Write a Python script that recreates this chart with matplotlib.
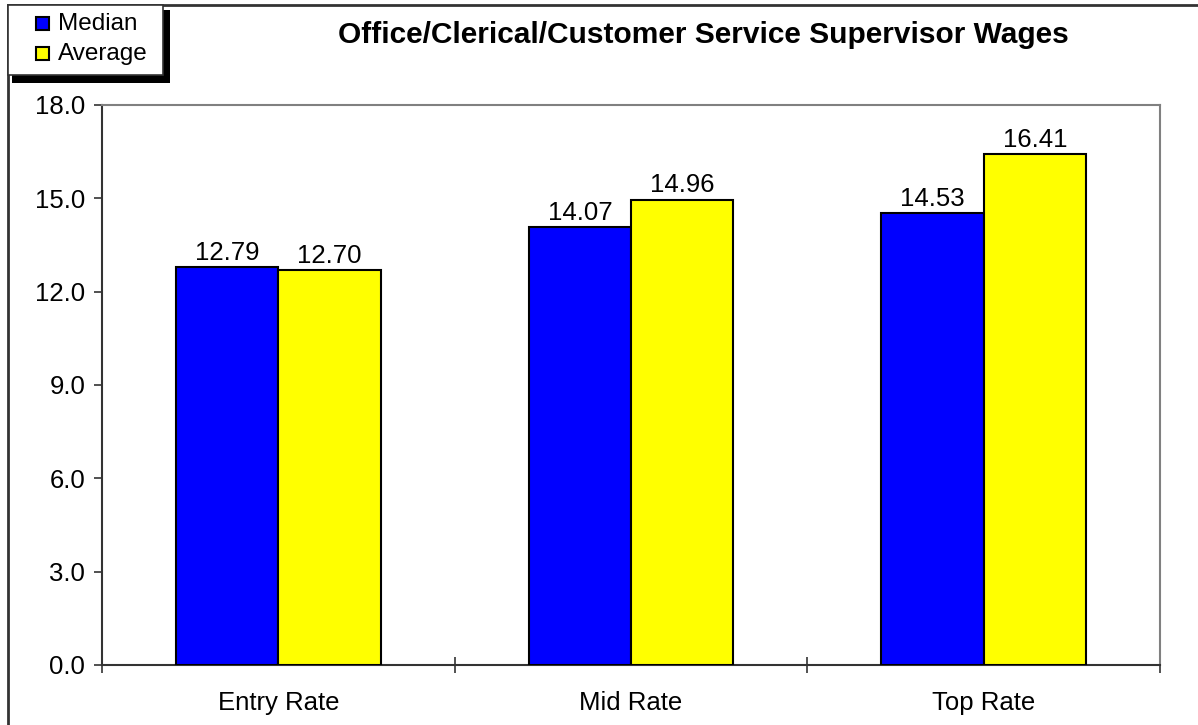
import matplotlib
matplotlib.use("Agg")
import matplotlib.pyplot as plt
from matplotlib.patches import Rectangle
from matplotlib.lines import Line2D
import numpy as np

plt.rcParams['font.family'] = ['Liberation Sans', 'DejaVu Sans']

title = "Office/Clerical/Customer Service Supervisor Wages"
categories = ["Entry Rate", "Mid Rate", "Top Rate"]
series_names = ["Median", "Average"]
median_vals = [12.79, 14.07, 14.53]
average_vals = [12.70, 14.96, 16.41]
series_colors = ["#0000FF", "#FFFF00"]
y_ticks = [0.0, 3.0, 6.0, 9.0, 12.0, 15.0, 18.0]

W, H = 1198, 725
fig = plt.figure(figsize=(W / 100, H / 100), dpi=100)

def fx(px):
    return px / W

def fy(py):
    return 1 - py / H

ax = fig.add_axes([fx(102), fy(665), fx(1160) - fx(102), fy(105) - fy(665)])

x = np.arange(len(categories))
bw = 0.29
b1 = ax.bar(x - bw / 2, median_vals, bw, color=series_colors[0], edgecolor="black", linewidth=1.5, zorder=3)
b2 = ax.bar(x + bw / 2, average_vals, bw, color=series_colors[1], edgecolor="black", linewidth=1.5, zorder=3)

for bars, vals in ((b1, median_vals), (b2, average_vals)):
    for rect, v in zip(bars, vals):
        ax.annotate(f"{v:.2f}", (rect.get_x() + rect.get_width() / 2, v),
                    xytext=(0, 1.5), textcoords="offset points",
                    ha="center", va="bottom", fontsize=18.5)

ax.set_xlim(-0.5, len(categories) - 0.5)
ax.set_ylim(0, 18)
ax.set_yticks(y_ticks)
ax.set_yticklabels([f"{t:.1f}" for t in y_ticks], fontsize=18.5)
ax.set_xticks(x)
ax.set_xticklabels(categories, fontsize=18.5)
ax.tick_params(axis="x", which="major", length=0, pad=19)
ax.set_xticks(np.arange(-0.5, len(categories), 1.0), minor=True)
ax.tick_params(axis="x", which="minor", direction="inout", length=12, width=1.2, color="#333333")
ax.tick_params(axis="y", direction="out", length=6, width=1.2, color="#333333", pad=6)

for s in ("top", "right"):
    ax.spines[s].set_color("#808080")
    ax.spines[s].set_linewidth(1.5)
for s in ("left", "bottom"):
    ax.spines[s].set_color("#333333")
    ax.spines[s].set_linewidth(1.5)

fig.text(fx(703), fy(35), title, ha="center", va="center", fontsize=21.5, fontweight="bold")

# outer frame lines
fig.add_artist(Line2D([fx(8), fx(1198)], [fy(5), fy(5)], color="#333333", lw=2))
fig.add_artist(Line2D([fx(8), fx(8)], [fy(5), fy(725)], color="#333333", lw=2))

# legend with shadow
fig.add_artist(Rectangle((fx(12), fy(83)), fx(170) - fx(12), fy(10) - fy(83), facecolor="black", edgecolor="none", zorder=5))
fig.add_artist(Rectangle((fx(8), fy(75)), fx(163) - fx(8), fy(5) - fy(75), facecolor="white", edgecolor="#333333", lw=1.2, zorder=6))
for i, (name, col) in enumerate(zip(series_names, series_colors)):
    cy = 24 + i * 30
    fig.add_artist(Rectangle((fx(36), fy(cy + 6)), fx(13), fx(13) * W / H, facecolor=col, edgecolor="black", lw=1.5, zorder=7))
    fig.text(fx(58), fy(cy), name, ha="left", va="center", fontsize=17.5, zorder=8)

fig.savefig("out.png", dpi=100)
